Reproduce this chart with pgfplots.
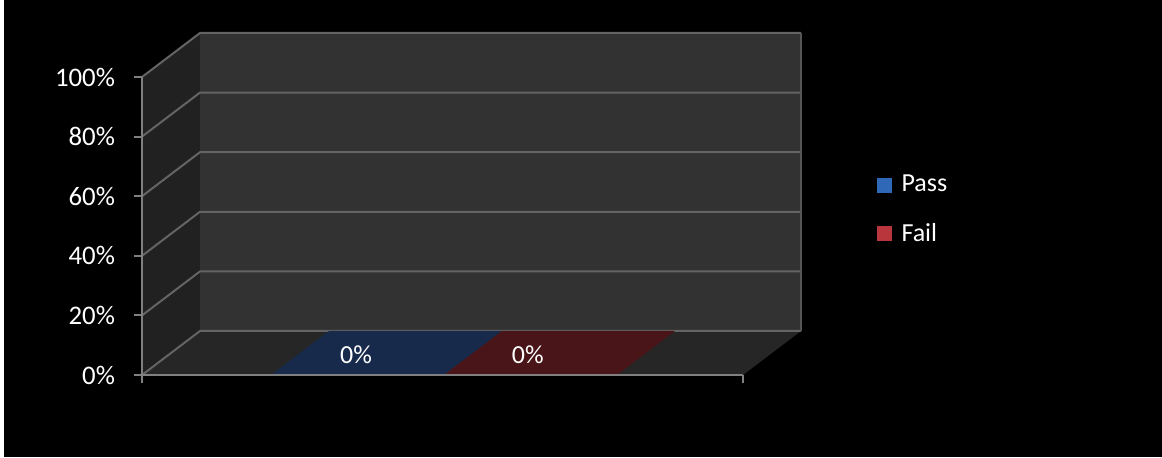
\documentclass[border=0pt]{standalone}
\usepackage{pgfplots}
\pgfplotsset{compat=1.18}
\usepackage{fontspec}
\setmainfont{Carlito}
\definecolor{backwall}{HTML}{323232}
\definecolor{sidewall}{HTML}{212121}
\definecolor{floorc}{HTML}{262626}
\definecolor{gridc}{HTML}{646464}
\definecolor{axisc}{HTML}{808080}
\definecolor{passc}{HTML}{172A4B}
\definecolor{failc}{HTML}{4A1518}
\definecolor{passleg}{HTML}{3068B8}
\definecolor{failleg}{HTML}{B8363C}
\begin{document}
\begin{tikzpicture}
\fill[black] (2pt,0) rectangle (581pt,228.5pt);
\begin{axis}[
  at={(71pt,41pt)}, anchor=south west,
  scale only axis, width=300.5pt, height=149pt,
  xmin=0, xmax=1, ymin=0, ymax=100,
  clip=false, axis on top,
  axis x line*=bottom, axis y line*=left,
  axis line style={axisc, line width=1pt, -},
  xtick={0,1}, xticklabels={},
  ytick={0,20,40,60,80,100},
  yticklabel={\pgfmathprintnumber{\tick}\%},
  /pgf/number format/assume math mode=true,
  tick align=outside,
  major tick length=4pt,
  tick style={axisc, line width=1pt},
  tick label style={white, font=\fontsize{13.4}{15}\selectfont},
  yticklabel style={xshift=-6pt},
  legend style={at={(axis cs:1.2215,63.8)}, anchor=north west, yshift=7pt,
    fill=none, draw=none, text=white, font=\fontsize{13}{15}\selectfont,
    row sep=10pt, inner sep=0pt,
    /tikz/every even column/.append style={column sep=0pt}},
  legend cell align=left,
]
% side wall
\addplot[fill=sidewall, draw=none, forget plot] coordinates {(0,0) (0.0965,14.77) (0.0965,114.77) (0,100)} -- cycle;
% back wall
\addplot[fill=backwall, draw=none, forget plot] coordinates {(0.0965,14.77) (1.0965,14.77) (1.0965,114.77) (0.0965,114.77)} -- cycle;
% floor
\addplot[fill=floorc, draw=none, forget plot] coordinates {(0,0) (1,0) (1.0965,14.77) (0.0965,14.77)} -- cycle;
% gridlines
\addplot[gridc, line width=1pt, forget plot] coordinates {(0,0) (0.0965,14.77) (1.0965,14.77)};
\addplot[gridc, line width=1pt, forget plot] coordinates {(0,20) (0.0965,34.77) (1.0965,34.77)};
\addplot[gridc, line width=1pt, forget plot] coordinates {(0,40) (0.0965,54.77) (1.0965,54.77)};
\addplot[gridc, line width=1pt, forget plot] coordinates {(0,60) (0.0965,74.77) (1.0965,74.77)};
\addplot[gridc, line width=1pt, forget plot] coordinates {(0,80) (0.0965,94.77) (1.0965,94.77)};
\addplot[gridc, line width=1pt, forget plot] coordinates {(0,100) (0.0965,114.77) (1.0965,114.77)};
\addplot[gridc!70!backwall, line width=0.6pt, forget plot] coordinates {(1.0965,14.77) (1.0965,114.77)};
% bars (value 0%: top face lies on the floor)
\addplot[fill=passc, draw=none,
  legend image code/.code={\fill[passleg] (0pt,-3.75pt) rectangle (7.5pt,3.75pt);}]
  coordinates {(0.2146,0) (0.5025,0) (0.5990,14.77) (0.3111,14.77)} -- cycle;
\addlegendentry{\hspace{3pt}Pass}
\addplot[fill=failc, draw=none,
  legend image code/.code={\fill[failleg] (0pt,-3.75pt) rectangle (7.5pt,3.75pt);}]
  coordinates {(0.5025,0) (0.7903,0) (0.8868,14.77) (0.5990,14.77)} -- cycle;
\addlegendentry{\hspace{3pt}Fail}
\node[white, font=\fontsize{13}{15}\selectfont] at (axis cs:0.356,6.9) {0\%};
\node[white, font=\fontsize{13}{15}\selectfont] at (axis cs:0.642,6.9) {0\%};
\end{axis}
\pgfresetboundingbox
\useasboundingbox (0,0) rectangle (581pt,228.5pt);
\end{tikzpicture}
\end{document}
